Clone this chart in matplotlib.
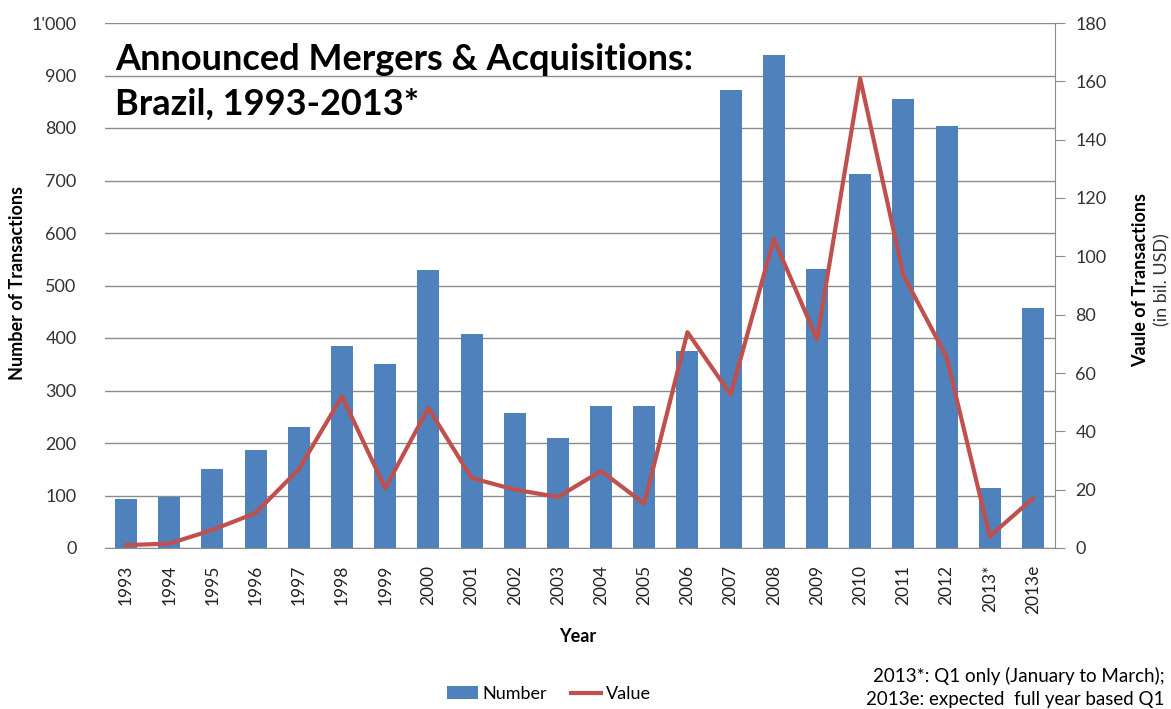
import numpy as np
import matplotlib
matplotlib.use("Agg")
import matplotlib.pyplot as plt
from matplotlib.patches import Patch
from matplotlib.lines import Line2D

plt.rcParams['font.family'] = ['Lato', 'DejaVu Sans']

# data
years = ["1993", "1994", "1995", "1996", "1997", "1998", "1999", "2000", "2001",
         "2002", "2003", "2004", "2005", "2006", "2007", "2008", "2009", "2010",
         "2011", "2012", "2013*", "2013e"]
number = [93, 97, 150, 187, 230, 384, 350, 530, 408, 257, 210, 271, 271, 375,
          872, 940, 532, 712, 855, 803, 114, 458]
value = [1.0, 1.5, 6.2, 12, 27, 52, 20.5, 48, 24, 20, 17.5, 26.4, 15.2, 74,
         52.6, 106, 71.6, 161, 93.6, 65.5, 4, 17]

bar_color = "#4F81BD"
line_color = "#C0504D"
grid_color = "#8C8C8C"

W, H = 1171, 709
fig = plt.figure(figsize=(W / 100, H / 100), dpi=100)
ax = fig.add_axes([104.5 / W, 1 - 548 / H, 950 / W, 525 / H])
ax2 = ax.twinx()

x = np.arange(len(years))
ax.bar(x, number, width=0.51, color=bar_color, zorder=2)
ax.set_xlim(-0.5, len(years) - 0.5)
ax.set_ylim(0, 1000)
ax.set_yticks(np.arange(0, 1001, 100))
ax.set_yticklabels([str(v) if v < 1000 else "1'000" for v in range(0, 1001, 100)])
ax.yaxis.grid(True, color=grid_color, linewidth=1.0)
ax.set_axisbelow(True)
ax.set_xticks(x)
ax.set_xticklabels(years, rotation=90, fontsize=12.5)
ax.tick_params(axis="x", length=0, pad=12, colors="#222222")
ax.tick_params(axis="y", length=0, pad=20, labelsize=13, colors="#333333")

for s in ["top", "left", "right"]:
    ax.spines[s].set_visible(False)
ax.spines["bottom"].set_color(grid_color)

ax2.plot(x, value, color=line_color, linewidth=3.0, zorder=3)
ax2.set_ylim(0, 180)
ax2.set_yticks(np.arange(0, 181, 20))
ax2.tick_params(axis="y", length=7, pad=8, labelsize=13, colors="#333333")
ax2.tick_params(axis="y", color=grid_color)
for s in ["top", "left", "bottom"]:
    ax2.spines[s].set_visible(False)
ax2.spines["right"].set_color(grid_color)

# title inside the plot area
fig.text(115 / W, 1 - 70 / H, "Announced Mergers & Acquisitions:",
         fontsize=26, fontweight="bold", ha="left", va="baseline")
fig.text(115 / W, 1 - 115 / H, "Brazil, 1993-2013*",
         fontsize=26, fontweight="bold", ha="left", va="baseline")

# axis titles
fig.text(18 / W, 1 - 283 / H, "Number of Transactions", rotation=90,
         fontsize=13, fontweight="bold", ha="center", va="center")
fig.text(1141 / W, 1 - 280 / H, "Vaule of Transactions", rotation=90,
         fontsize=13, fontweight="bold", ha="center", va="center")
fig.text(1162 / W, 1 - 280 / H, "(in bil. USD)", rotation=90,
         fontsize=13, ha="center", va="center", color="#333333")
fig.text(578 / W, 1 - 636 / H, "Year", fontsize=13, fontweight="bold",
         ha="center", va="center")

# legend
handles = [Patch(facecolor=bar_color, edgecolor="none"),
           Line2D([], [], color=line_color, linewidth=3.0)]
fig.legend(handles, ["Number", "Value"], loc="center",
           bbox_to_anchor=(549 / W, 1 - 694 / H), ncol=2, frameon=False,
           fontsize=13, handlelength=1.7, handleheight=0.75,
           handletextpad=0.25, columnspacing=1.3)

# footnote
fig.text(1165 / W, 1 - 676 / H, "2013*: Q1 only (January to March);",
         fontsize=13.5, ha="right", va="center")
fig.text(1165 / W, 1 - 700 / H, "2013e: expected  full year based Q1",
         fontsize=13.5, ha="right", va="center")

fig.savefig("out.png", dpi=100)
